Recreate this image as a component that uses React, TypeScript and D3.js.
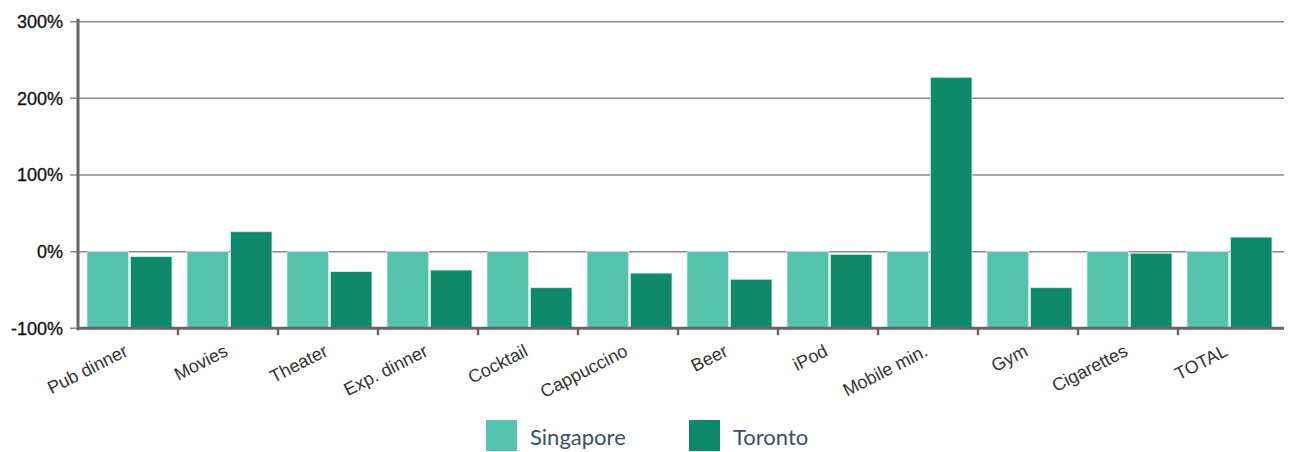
import React from "react";
import * as d3 from "d3";

const categories = ["Pub dinner", "Movies", "Theater", "Exp. dinner", "Cocktail", "Cappuccino", "Beer", "iPod", "Mobile min.", "Gym", "Cigarettes", "TOTAL"];
const singapore = [0, 0, 0, 0, 0, 0, 0, 0, 0, 0, 0, 0];
const toronto = [-6.5, 26, -26, -24, -47, -28, -36, -3.5, 227.5, -47, -2, 19];
const yTicks = [-100, 0, 100, 200, 300];
const seriesNames = ["Singapore", "Toronto"];
const colors = ["#55c2ab", "#0e8a6b"];

export default function App() {
  const W = 1290, H = 452;
  const left = 78, right = 1278, top = 21.7, bottom = 328.3;
  const x = d3.scaleBand<string>().domain(categories).range([left, right]).paddingInner(0).paddingOuter(0);
  const y = d3.scaleLinear().domain([-100, 300]).range([bottom, top]);
  const inner = d3.scaleBand<string>().domain(seriesNames).range([9, 94]).paddingInner(0.04);
  const series = [singapore, toronto];
  const boundaries = categories.map((c) => (x(c) as number) + x.bandwidth()).slice(0, -1);
  return (
    <svg width={W} height={H} style={{ position: "absolute", left: 0, top: 0, display: "block", background: "#fff" }}>
      {yTicks.map((t) => (
        <g key={t}>
          <line x1={left - 8} x2={1284} y1={y(t)} y2={y(t)} stroke="#8a8a8a" strokeWidth={1.5} />
          <text x={63} y={y(t)} dy="0.35em" textAnchor="end" fontFamily="Liberation Sans, Arial, sans-serif" fontSize={18} fill="#111" stroke="#111" strokeWidth={0.3}>{t}%</text>
        </g>
      ))}
      {categories.map((c, i) =>
        series.map((s, k) => (
          <rect key={c + k}
            x={(x(c) as number) + (inner(seriesNames[k]) as number)}
            y={y(s[i])}
            width={inner.bandwidth()}
            height={y(-100) - y(s[i])}
            fill={colors[k]}
            stroke="#d8efe9" strokeWidth={0.8} />
        ))
      )}
      <line x1={left} x2={left} y1={top - 3} y2={bottom + 2} stroke="#666" strokeWidth={3} />
      <line x1={left} x2={1284} y1={bottom} y2={bottom} stroke="#666" strokeWidth={3} />
      {boundaries.map((b, i) => (
        <line key={i} x1={b} x2={b} y1={bottom} y2={bottom + 7} stroke="#666" strokeWidth={2.5} />
      ))}
      {categories.map((c) => {
        const cx = (x(c) as number) + x.bandwidth() / 2 + 1;
        return (
          <text key={c} transform={`translate(${cx},${355}) rotate(-27)`} textAnchor="end" fontFamily="Liberation Sans, Arial, sans-serif" fontSize={18} fill="#333">{c}</text>
        );
      })}
      {seriesNames.map((n, k) => (
        <g key={n} transform={`translate(${486 + k * 203},420)`}>
          <rect x={0} y={0} width={31} height={31} fill={colors[k]} />
          <text x={44} y={25} fontFamily="Lato, sans-serif" fontSize={22} fill="#3d4f63">{n}</text>
        </g>
      ))}
    </svg>
  );
}
